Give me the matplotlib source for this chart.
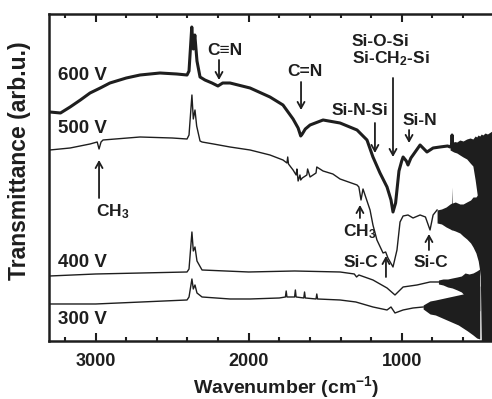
import matplotlib
matplotlib.use('Agg')
import matplotlib.pyplot as plt
from matplotlib.ticker import MultipleLocator

plt.rcParams['font.family'] = ['Liberation Sans', 'DejaVu Sans']
plt.rcParams['font.weight'] = 'bold'
plt.rcParams['axes.labelweight'] = 'bold'
plt.rcParams['mathtext.fontset'] = 'custom'
plt.rcParams['mathtext.rm'] = 'Liberation Sans:bold'
plt.rcParams['mathtext.it'] = 'Liberation Sans:bold'
plt.rcParams['mathtext.bf'] = 'Liberation Sans:bold'

INK = '#1e1e1e'

# -----------------------------------------------------------
# Spectra (wavenumber in cm-1, transmittance in arb.u.)
w_600 = [3300, 3230, 3167, 3100, 3037, 2970, 2907, 2800, 2710, 2580, 2470, 2403, 2390,
         2372, 2362, 2352, 2338, 2318, 2286, 2240, 2201, 2170, 2122, 1991, 1861, 1776,
         1710, 1677, 1660, 1650, 1630, 1599, 1514, 1403, 1292, 1227, 1188, 1142, 1096,
         1070, 1057, 1040, 1018, 1000, 991, 970, 959, 940, 926, 880, 835, 795, 750, 700,
         684, 675, 671, 667, 650]
t_600 = [229, 228, 234, 241, 248, 253, 258, 263, 266, 268, 267, 266, 270,
         314, 292, 306, 280, 264, 261, 258, 255, 258, 258, 253, 244, 236,
         222, 213, 205, 207, 212, 216, 221, 218, 211, 201, 184, 168, 154,
         141, 129, 138, 170, 180, 184, 180, 176, 183, 186, 196, 189, 193, 194, 195,
         194, 196, 206, 196, 197]

w_500 = [3300, 3167, 3037, 2990, 2978, 2965, 2952, 2710, 2500, 2403, 2390, 2371, 2362,
         2351, 2340, 2318, 2305, 2230, 2122, 1991, 1861, 1776, 1750, 1745, 1740, 1710,
         1690, 1685, 1677, 1665, 1660, 1650, 1620, 1615, 1599, 1560, 1555, 1514, 1450,
         1403, 1292, 1280, 1266, 1253, 1207, 1188, 1162, 1122, 1105, 1090, 1057, 1031,
         1011, 991, 959, 926, 880, 845, 815, 795, 769]
t_500 = [191, 193, 197, 199, 192, 199, 201, 204, 203, 202, 206, 246, 222,
         231, 215, 200, 199, 197, 194, 191, 186, 181, 178, 184, 177, 171,
         166, 172, 160, 166, 161, 163, 166, 172, 164, 168, 174, 170, 167,
         162, 156, 154, 141, 152, 131, 116, 101, 88, 89, 83, 74, 91,
         119, 125, 126, 123, 126, 124, 111, 126, 131]

w_400 = [3300, 3000, 2700, 2403, 2390, 2371, 2362, 2351, 2338, 2305, 2000, 1700, 1403,
         1310, 1295, 1280, 1188, 1096, 1044, 991, 900, 815, 760]
t_400 = [65, 67, 68, 69, 72, 109, 90, 94, 80, 71, 69, 70, 69,
         67, 64, 66, 61, 53, 46, 54, 56, 59, 59]

w_300 = [3300, 3000, 2700, 2403, 2390, 2371, 2362, 2351, 2338, 2305, 2122, 1991, 1800,
         1760, 1755, 1750, 1700, 1695, 1690, 1640, 1635, 1630, 1560, 1555, 1550,
         1403, 1300, 1188, 1096, 1070, 1044, 991, 926, 860]
t_300 = [37, 37, 39, 41, 44, 62, 52, 56, 48, 44, 42, 42, 43,
         44, 50, 44, 44, 51, 44, 43, 49, 43, 42, 47, 42,
         41, 39, 34, 31, 34, 28, 31, 33, 34]

# noisy low-wavenumber end: upper / lower envelope of each trace
band_w_600 = [684, 660, 640, 620, 599, 575, 553, 535, 520, 510, 501,
              490, 480, 470, 455, 440, 430, 420, 410]
band_hi_600 = [198, 199, 199, 201, 200, 202, 203, 202, 205, 204, 206,
               205, 207, 206, 208, 207, 208, 209, 210]
band_lo_600 = [191, 189, 188, 186, 184, 182, 178, 175, 161, 150, 140,
               100, 0, 0, 0, 0, 0, 0, 0]

band_w_500 = [769, 740, 710, 684, 673, 671, 669, 650, 620, 599,
              575, 550, 534, 515, 500, 490, 480]
band_hi_500 = [131, 132, 134, 137, 138, 154, 138, 139, 137, 137,
               139, 141, 144, 144, 147, 149, 150]
band_lo_500 = [118, 117, 114, 112, 111, 111, 111, 110, 108, 105,
               102, 98, 94, 88, 80, 70, 60]

band_w_400 = [760, 730, 700, 670, 638, 610, 586, 560, 534, 510, 490]
band_hi_400 = [61, 62, 62, 63, 64, 65, 68, 67, 68, 70, 72]
band_lo_400 = [57, 56, 54, 53, 51, 49, 45, 44, 44, 37, 30]

band_w_300 = [860, 815, 780, 750, 720, 690, 660, 630, 600, 570, 534, 510, 490]
band_hi_300 = [36, 40, 41, 42, 43, 44, 45, 46, 47, 49, 50, 53, 55]
band_lo_300 = [32, 27, 26, 24, 22, 20, 18, 16, 13, 10, 6, 3, 2]

labels_v = ['600 V', '500 V', '400 V', '300 V']
labels_v_t = [266, 212, 78, 21]

# (text, text x, text y, arrow x, arrow tail y, arrow head y)
marks = [
    ('C\u2261N', 2155, 291, 2194, 281, 261),
    ('C=N', 1632, 270, 1658, 259, 231),
    ('Si-N-Si', 1273, 230, 1175, 218, 188),
    ('Si-N', 880, 220, 952, 211, 198),
    ('CH$_3$', 2887, 129, 2978, 143, 181),
    ('CH$_3$', 1273, 109, 1273, 123, 136),
    ('Si-C', 1266, 78, 1103, 64, 85),
    ('Si-C', 808, 78, 822, 91, 107),
]


# -----------------------------------------------------------

fig = plt.figure(figsize=(4.92, 3.99), dpi=100)
ax = fig.add_axes([0.0996, 0.1454, 0.9004, 0.8195])

ax.plot(w_600, t_600, color=INK, lw=2.2, solid_joinstyle='round')
ax.plot(w_500, t_500, color=INK, lw=1.0)
ax.plot(w_400, t_400, color=INK, lw=1.0)
ax.plot(w_300, t_300, color=INK, lw=1.0)

ax.fill_between(band_w_600, band_lo_600, band_hi_600, color=INK, lw=0)
ax.fill_between(band_w_500, band_lo_500, band_hi_500, color=INK, lw=0)
ax.fill_between(band_w_400, band_lo_400, band_hi_400, color=INK, lw=0)
ax.fill_between(band_w_300, band_lo_300, band_hi_300, color=INK, lw=0)

for lab, ty in zip(labels_v, labels_v_t):
    ax.text(3245, ty, lab, fontsize=13.5, color=INK, ha='left', va='center')

arrow_style = '->,head_length=0.45,head_width=0.25'
for txt, tx, ty, axx, y0, y1 in marks:
    ax.text(tx, ty, txt, fontsize=12.5, color=INK, ha='center', va='center')
    ax.annotate('', xy=(axx, y1), xytext=(axx, y0),
                arrowprops=dict(arrowstyle=arrow_style, color=INK, lw=1.3,
                                shrinkA=0, shrinkB=0))

ax.text(1325, 300, 'Si-O-Si', fontsize=12.5, color=INK, ha='left', va='center')
ax.text(1325, 282, 'Si-CH$_2$-Si', fontsize=12.5, color=INK, ha='left', va='center')
ax.annotate('', xy=(1057, 184), xytext=(1057, 263),
            arrowprops=dict(arrowstyle=arrow_style, color=INK, lw=1.3,
                            shrinkA=0, shrinkB=0))

ax.set_xlim(3305, 410)
ax.set_ylim(0, 327)
ax.xaxis.set_major_locator(MultipleLocator(1000))
ax.xaxis.set_minor_locator(MultipleLocator(200))
ax.tick_params(axis='x', which='both', direction='in', top=True, width=1.5,
               colors=INK, labelsize=13, pad=9)
ax.tick_params(axis='x', which='major', length=6)
ax.tick_params(axis='x', which='minor', length=3)
ax.set_yticks([])
for s in ['left', 'top', 'bottom']:
    ax.spines[s].set_linewidth(1.8)
    ax.spines[s].set_color(INK)
ax.spines['right'].set_visible(False)

ax.set_xlabel('Wavenumber (cm$^{-1}$)', fontsize=14, color=INK)
ax.xaxis.set_label_coords(0.535, -0.100)
ax.set_ylabel('Transmittance (arb.u.)', fontsize=16.5, color=INK)
ax.yaxis.set_label_coords(-0.040, 0.55)

fig.savefig('out.png', dpi=100)
